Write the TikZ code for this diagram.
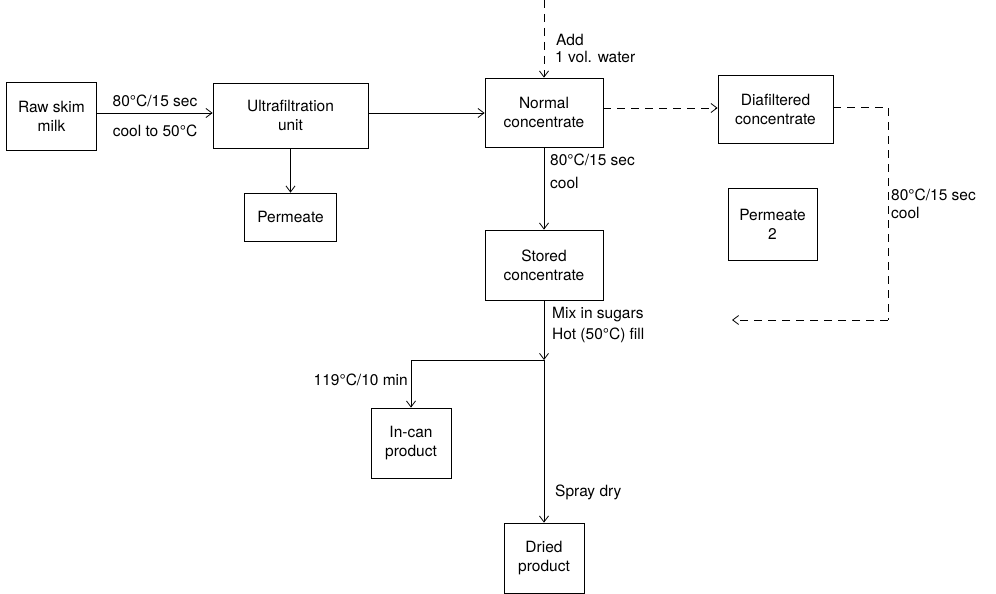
\documentclass[tikz,border=0pt]{standalone}
\usepackage{fontspec}
\setmainfont{TeX Gyre Heros}
\usetikzlibrary{arrows.meta}
\begin{document}
\begin{tikzpicture}[x=1pt,y=-1pt,
  box/.style={draw,line width=0.8pt,align=center,inner sep=0pt,font=\fontsize{15.5}{19}\selectfont},
  lbl/.style={font=\fontsize{15.5}{19}\selectfont,inner sep=0pt},
  flow/.style={line width=0.8pt,-{Straight Barb[length=6pt,width=9pt,line width=0.8pt]}},
  dflow/.style={flow,dash pattern=on 8pt off 6pt},
  dline/.style={line width=0.8pt,dash pattern=on 8pt off 6pt}]
\useasboundingbox (0,0) rectangle (996,594);
\node[box,minimum width=90pt,minimum height=68pt] (raw) at (51.5,116) {Raw skim\\milk};
\node[box,minimum width=155pt,minimum height=65pt] (uf) at (290.5,115.5) {Ultrafiltration\\unit};
\node[box,minimum width=92pt,minimum height=48pt] (perm) at (290.5,217) {Permeate};
\node[box,minimum width=118pt,minimum height=69pt] (nc) at (544,112.5) {Normal\\concentrate};
\node[box,minimum width=115pt,minimum height=68pt] (dc) at (775.5,109) {Diafiltered\\concentrate};
\node[box,minimum width=89pt,minimum height=72pt] (p2) at (772.5,224) {Permeate\\2};
\node[box,minimum width=118pt,minimum height=70pt] (sc) at (544,265) {Stored\\concentrate};
\node[box,minimum width=80pt,minimum height=70pt] (ic) at (411,443) {In-can\\product};
\node[box,minimum width=80pt,minimum height=70pt] (dp) at (544,558) {Dried\\product};
\coordinate (top) at (544,0);
\coordinate (j) at (544,360);
\coordinate (jl) at (411,360);
\coordinate (c1) at (888,107);
\coordinate (c2) at (888,320);
\coordinate (ret) at (732,320);
\draw[flow] (raw.east |- 0,113) -- (uf.west |- 0,113);
\draw[flow] (uf.east |- 0,113) -- (nc.west |- 0,113);
\draw[flow] (uf.south) -- (perm.north);
\draw[dflow] (top) -- (nc.north);
\draw[dflow] (nc.east |- 0,108) -- (dc.west |- 0,108);
\draw[dline] (dc.east |- c1) -- (c1) -- (c2);
\draw[dflow] (c2) -- (ret);
\draw[flow] (nc.south) -- (sc.north);
\draw[flow] (sc.south) -- (j);
\draw[flow] (j) -- (jl) -- (ic.north);
\draw[flow] (j) -- (dp.north);
\node[lbl] (l1) at (155,101) {80°C/15 sec};
\node[lbl] (l2) at (155,131) {cool to 50°C};
\node[lbl,anchor=west] (l3) at (556,40) {Add};
\node[lbl,anchor=west] (l4) at (555,57) {1 vol. water};
\node[lbl,anchor=west] (l5) at (550,160) {80°C/15 sec};
\node[lbl,anchor=west] (l6) at (550,183) {cool};
\node[lbl,anchor=west] (l7) at (891,195) {80°C/15 sec};
\node[lbl,anchor=west] (l8) at (891,213) {cool};
\node[lbl,anchor=west] (l9) at (552,315) {Mix in sugars};
\node[lbl,anchor=west] (l10) at (552,335) {Hot (50°C) fill};
\node[lbl,anchor=east] (l11) at (408,380) {119°C/10 min};
\node[lbl,anchor=west] (l12) at (555,492) {Spray dry};
\end{tikzpicture}
\end{document}
